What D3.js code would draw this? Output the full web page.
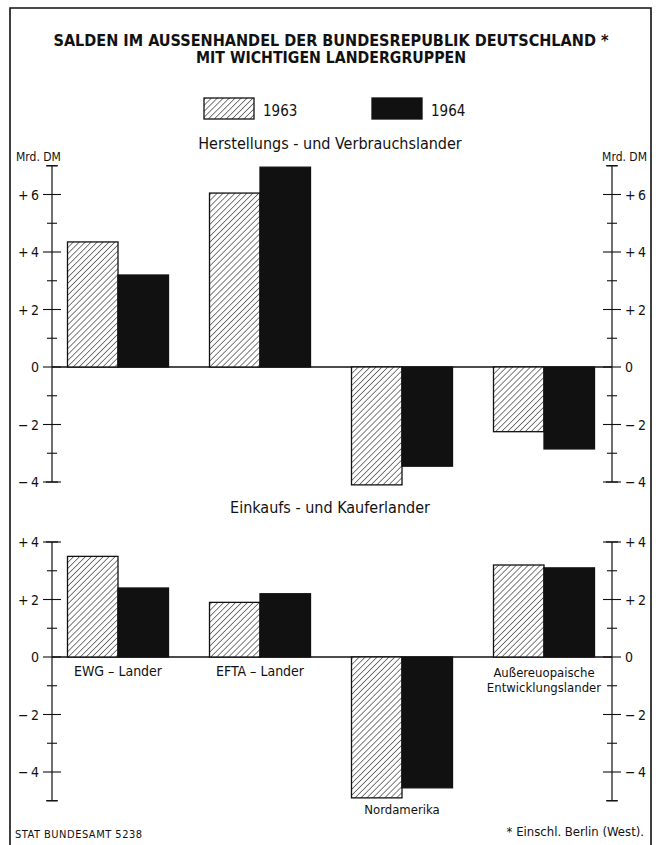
<!DOCTYPE html>
<html><head><meta charset="utf-8">
<script src="https://cdn.jsdelivr.net/npm/d3@7"></script>
<style>
body{margin:0;background:#fff;}
svg{display:block;}
text{font-family:"Liberation Sans Narrow","DejaVu Sans Condensed","Roboto Condensed",sans-serif;fill:#111;}
</style></head>
<body><svg id="c" width="660" height="845"></svg>
<script>
const categories = ["EWG – Lander", "EFTA – Lander", "Nordamerika", "Außereuopaische Entwicklungslander"];
const years = ["1963", "1964"];
const herstellung1963 = [4.35, 6.05, -4.1, -2.25];
const herstellung1964 = [3.2, 6.95, -3.45, -2.85];
const einkauf1963 = [3.5, 1.9, -4.9, 3.2];
const einkauf1964 = [2.4, 2.2, -4.55, 3.1];
const topTicks = [-4, -2, 0, 2, 4, 6];
const bottomTicks = [-4, -2, 0, 2, 4];

const svg = d3.select("#c");
const ink = "#111";

// hatch pattern
const defs = svg.append("defs");
const pat = defs.append("pattern").attr("id","hatch").attr("patternUnits","userSpaceOnUse")
  .attr("width",4.2).attr("height",4.2).attr("patternTransform","rotate(45)");
pat.append("rect").attr("width",4.2).attr("height",4.2).attr("fill","#fff");
pat.append("line").attr("x1",0).attr("y1",0).attr("x2",0).attr("y2",4.2).attr("stroke",ink).attr("stroke-width",1.1);

// frame
svg.append("path").attr("d","M10,845 L10,8 L651,8 L651,845").attr("fill","none").attr("stroke",ink).attr("stroke-width",1.6);

// titles
svg.append("text").attr("x",331).attr("y",46).attr("text-anchor","middle").attr("font-size",15).attr("font-weight","bold")
  .attr("textLength",555).attr("lengthAdjust","spacingAndGlyphs")
  .text("SALDEN IM AUSSENHANDEL DER BUNDESREPUBLIK DEUTSCHLAND *");
svg.append("text").attr("x",331).attr("y",63).attr("text-anchor","middle").attr("font-size",15).attr("font-weight","bold")
  .attr("textLength",270).attr("lengthAdjust","spacingAndGlyphs")
  .text("MIT WICHTIGEN LANDERGRUPPEN");

// legend
const legX = d3.scaleOrdinal().domain(years).range([204, 372]);
years.forEach((yr,i)=>{
  svg.append("rect").attr("x",legX(yr)).attr("y",98).attr("width",50).attr("height",21)
    .attr("fill", i===0 ? "url(#hatch)" : ink).attr("stroke",ink).attr("stroke-width",1.3);
  svg.append("text").attr("x",legX(yr)+59).attr("y",116).attr("font-size",15).text(yr);
});

const x0 = d3.scaleBand().domain(categories).range([47, 615]);
const x1 = d3.scaleBand().domain(years).range([0, 101]);
const offset = (x0.bandwidth() - 101) / 2;
const axL = 52, axR = 612;

function panel(opt){
  const y = d3.scaleLinear().domain([0, 1]).range([opt.zero, opt.zero - 28.75]);
  const g = svg.append("g");
  // subtitle
  g.append("text").attr("x",330).attr("y",opt.subY).attr("text-anchor","middle").attr("font-size",16).text(opt.subtitle);
  // zero line
  g.append("line").attr("x1",axL).attr("x2",axR).attr("y1",y(0)).attr("y2",y(0)).attr("stroke",ink).attr("stroke-width",1.5);
  // bars
  const data = [];
  categories.forEach((c,i)=>{
    data.push({c, yr:"1963", v:opt.a[i]});
    data.push({c, yr:"1964", v:opt.b[i]});
  });
  g.selectAll("rect.bar").data(data).join("rect").attr("class","bar")
    .attr("x", d=>x0(d.c)+offset+x1(d.yr))
    .attr("width", x1.bandwidth())
    .attr("y", d=>Math.min(y(0), y(d.v)))
    .attr("height", d=>Math.abs(y(d.v)-y(0)))
    .attr("fill", d=>d.yr==="1963" ? "url(#hatch)" : ink)
    .attr("stroke", ink).attr("stroke-width",1.3);
  // axes
  [ {x:axL, side:-1}, {x:axR, side:1} ].forEach(ax=>{
    g.append("line").attr("x1",ax.x).attr("x2",ax.x).attr("y1",y(opt.top)).attr("y2",y(opt.bot)).attr("stroke",ink).attr("stroke-width",1.2);
    // end caps
    [opt.top, opt.bot].forEach(v=>{
      g.append("line").attr("x1",ax.x-6).attr("x2",ax.x+6).attr("y1",y(v)).attr("y2",y(v)).attr("stroke",ink).attr("stroke-width",1.2);
    });
    // minor ticks
    d3.range(Math.ceil(opt.bot), Math.floor(opt.top)+1).filter(v=>Math.abs(v)%2===1).forEach(v=>{
      g.append("line").attr("x1",ax.x-5).attr("x2",ax.x+5).attr("y1",y(v)).attr("y2",y(v)).attr("stroke",ink).attr("stroke-width",1.1);
    });
    // major ticks
    opt.ticks.forEach(v=>{
      g.append("line").attr("x1",ax.x-9).attr("x2",ax.x+9).attr("y1",y(v)).attr("y2",y(v)).attr("stroke",ink).attr("stroke-width",1.1);
      const lbl = v>0 ? "+"+v : (v<0 ? "\u2212"+(-v) : "0");
      g.append("text").attr("x", ax.side<0 ? ax.x-13 : ax.x+13).attr("y",y(v)+5)
        .attr("text-anchor", ax.side<0 ? "end" : "start").attr("font-size",14).text(lbl.replace("+","+\u2009").replace("\u2212","\u2212\u2009"));
    });
  });
  return {g,y};
}

const p1 = panel({zero:367, top:7, bot:-4, ticks:topTicks, a:herstellung1963, b:herstellung1964,
  subtitle:"Herstellungs - und Verbrauchslander", subY:149});
const p2 = panel({zero:657, top:4, bot:-5, ticks:bottomTicks, a:einkauf1963, b:einkauf1964,
  subtitle:"Einkaufs - und Kauferlander", subY:513});

// unit labels
svg.append("text").attr("x",16).attr("y",161).attr("font-size",12).text("Mrd. DM");
svg.append("text").attr("x",647).attr("y",161).attr("text-anchor","end").attr("font-size",12).text("Mrd. DM");

// category labels in bottom panel
const cx = c => x0(c)+x0.bandwidth()/2;
svg.append("text").attr("x",cx(categories[0])).attr("y",676).attr("text-anchor","middle").attr("font-size",14).text(categories[0]);
svg.append("text").attr("x",cx(categories[1])).attr("y",676).attr("text-anchor","middle").attr("font-size",14).text(categories[1]);
svg.append("text").attr("x",cx(categories[2])).attr("y",814).attr("text-anchor","middle").attr("font-size",13).text(categories[2]);
const lab4 = categories[3].split(" ");
lab4.forEach((t,i)=>{
  svg.append("text").attr("x",cx(categories[3])).attr("y",677+i*15).attr("text-anchor","middle").attr("font-size",13).text(t);
});

// footer
svg.append("text").attr("x",15).attr("y",838).attr("font-size",11).attr("letter-spacing",0.5).text("STAT  BUNDESAMT 5238");
svg.append("text").attr("x",644).attr("y",836).attr("text-anchor","end").attr("font-size",13).text("* Einschl. Berlin (West).");
</script></body></html>
